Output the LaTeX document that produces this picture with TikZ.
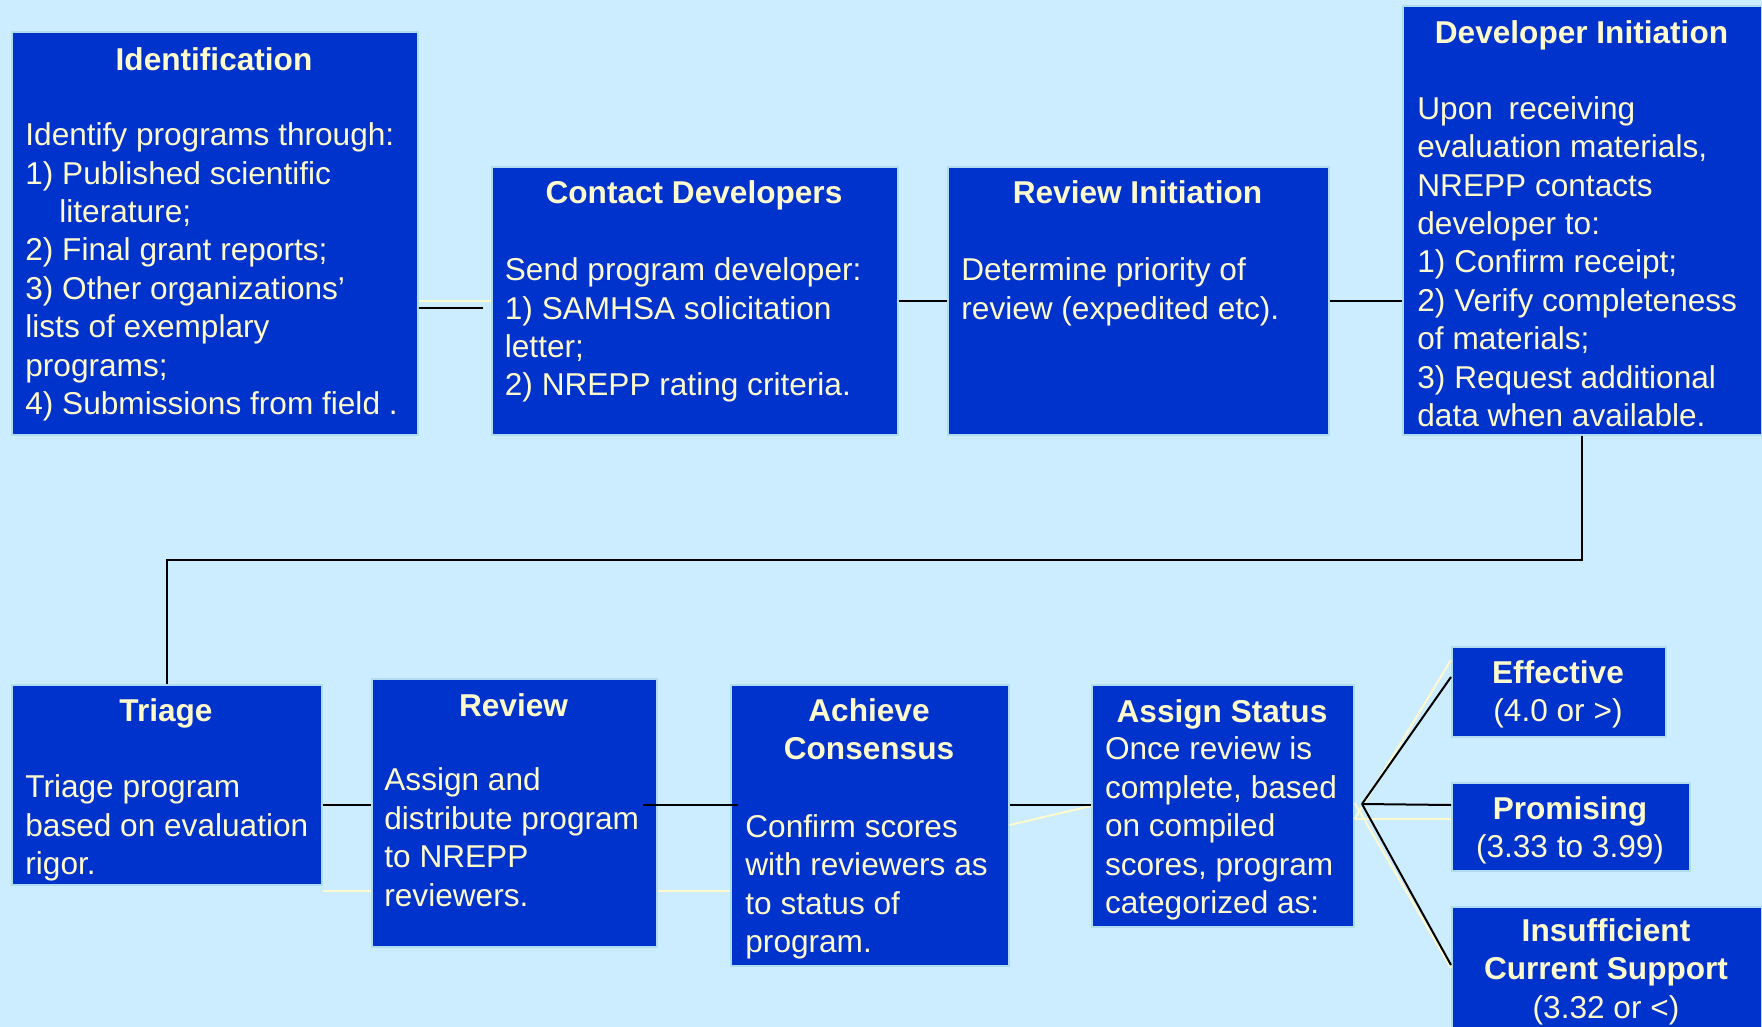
\documentclass[tikz,border=0pt]{standalone}
\usepackage{fontspec}
\setmainfont{Liberation Sans}
\definecolor{bgblue}{RGB}{204,236,255}
\definecolor{boxblue}{RGB}{0,51,204}
\definecolor{boxedge}{RGB}{176,220,240}
\definecolor{cream}{RGB}{255,250,205}

\begin{document}
\begin{tikzpicture}[x=0.5pt, y=-0.5pt,
  stage/.style={draw=boxedge, line width=0.8pt, fill=boxblue, inner sep=0pt, anchor=north west},
  head/.style={inner sep=0pt, anchor=north, align=center, text=cream,
    font=\fontsize{15.8pt}{19.2pt}\selectfont\bfseries, execute at begin node=\rule{0pt}{13pt}},
  body/.style={inner sep=0pt, anchor=north west, align=left, text=cream,
    font=\fontsize{15.8pt}{19.2pt}\selectfont, execute at begin node=\rule{0pt}{13pt}},
  link/.style={line width=1pt, black},
  ghost/.style={line width=1pt, cream}]

\fill[bgblue] (0,0) rectangle (1762,1027);
\useasboundingbox (0,0) rectangle (1762,1027);

% boxes
\node[stage, minimum width=203pt, minimum height=201.5pt] (ident) at (11,31) {};
\node[stage, minimum width=203pt, minimum height=134pt] (contact) at (491,166) {};
\node[stage, minimum width=190.5pt, minimum height=134pt] (revinit) at (947,166) {};
\node[stage, minimum width=179.5pt, minimum height=214.5pt] (devinit) at (1402,5) {};
\node[stage, minimum width=155pt, minimum height=100pt] (triage) at (11,684) {};
\node[stage, minimum width=142.5pt, minimum height=134pt] (review) at (371,678) {};
\node[stage, minimum width=139pt, minimum height=140.5pt] (consensus) at (730,684) {};
\node[stage, minimum width=131pt, minimum height=121pt] (assign) at (1091,684) {};
\node[stage, minimum width=107pt, minimum height=45pt] (effective) at (1451,646) {};
\node[stage, minimum width=119pt, minimum height=44pt] (promising) at (1451,782) {};
\node[stage, minimum width=155pt, minimum height=67pt] (insufficient) at (1451,906) {};

\coordinate (fan) at (1362,804);

% connectors
\draw[ghost] (ident.east |- 0,301) -- (contact.west |- 0,301);
\draw[link, shorten >=4pt] (ident.east |- 0,308) -- (contact.west |- 0,308);
\draw[link] (contact.east) -- (revinit.west);
\draw[link] (revinit.east |- 0,301) -- (devinit.west |- 0,301);
\draw[link] (devinit.south) -- ++(0,124) -| (triage.north);

\draw[ghost] (triage.east |- 0,891) -- (review.west |- 0,891);
\draw[ghost] (review.east |- 0,891) -- (consensus.west |- 0,891);
\draw[ghost] (consensus.east |- 0,825) -- (assign.west |- 0,806);
\draw[link] (triage.east |- 0,805) -- (review.west |- 0,805);
\draw[link, shorten <=-7.5pt, shorten >=-4pt] (review.east |- 0,805) -- (consensus.west |- 0,805);
\draw[link] (consensus.east |- 0,805) -- (assign.west |- 0,805);

\draw[ghost] (assign.east |- 0,819) -- (effective.west |- 0,660);
\draw[ghost] (assign.east |- 0,819) -- (promising.west |- 0,819);
\draw[ghost] (assign.east |- 0,803) -- (insufficient.west |- 0,968);
\draw[link] (fan) -- (effective.west |- 0,677);
\draw[link] (fan) -- (promising.west |- 0,805);
\draw[link] (fan) -- (insufficient.west |- 0,965);

% texts
\node[head] (identT) at (214,44) {Identification};
\node[body] (identB) at (25,122.5) {Identify programs through:\\1) Published scientific\\\hspace*{17pt}literature;\\2) Final grant reports;\\3) Other organizations’\\lists of exemplary\\programs;\\4) Submissions from field .};

\node[head] (contactT) at (694,177.5) {Contact Developers};
\node[body] (contactB) at (504.5,257.5) {Send program developer:\\1) SAMHSA solicitation\\letter;\\2) NREPP rating criteria.};

\node[head] (revinitT) at (1137.5,177.5) {Review Initiation};
\node[body] (revinitB) at (961,257.5) {Determine priority of\\review (expedited etc).};

\node[head] (devinitT) at (1581.5,17.5) {Developer Initiation};
\node[body] (devinitB) at (1417,96) {Upon\hspace{0.5em}receiving\\evaluation materials,\\NREPP contacts\\developer to:\\1) Confirm receipt;\\2) Verify completeness\\of materials;\\3) Request additional\\data when available.};

\node[head] (triageT) at (166,695.5) {Triage};
\node[body] (triageB) at (25,774.5) {Triage program\\based on evaluation\\rigor.};

\node[head] (reviewT) at (513.5,690) {Review};
\node[body] (reviewB) at (384,767.5) {Assign and\\distribute program\\to NREPP\\reviewers.};

\node[head] (consensusT) at (869,698) {Achieve\\Consensus};
\node[body] (consensusB) at (745,814) {Confirm scores\\with reviewers as\\to status of\\program.};

\node[head] (assignT) at (1222,696) {Assign Status};
\node[body] (assignB) at (1104.6,736.5) {Once review is\\complete, based\\on compiled\\scores, program\\categorized as:};

\node[body, anchor=north, align=center] (effectiveT) at (1558,660) {\textbf{Effective}\\(4.0 or >)};
\node[body, anchor=north, align=center] (promisingT) at (1570,796) {\textbf{Promising}\\(3.33 to 3.99)};
\node[body, anchor=north, align=center] (insufficientT) at (1606,918) {\textbf{Insufficient}\\\textbf{Current Support}\\(3.32 or <)};

\end{tikzpicture}
\end{document}
